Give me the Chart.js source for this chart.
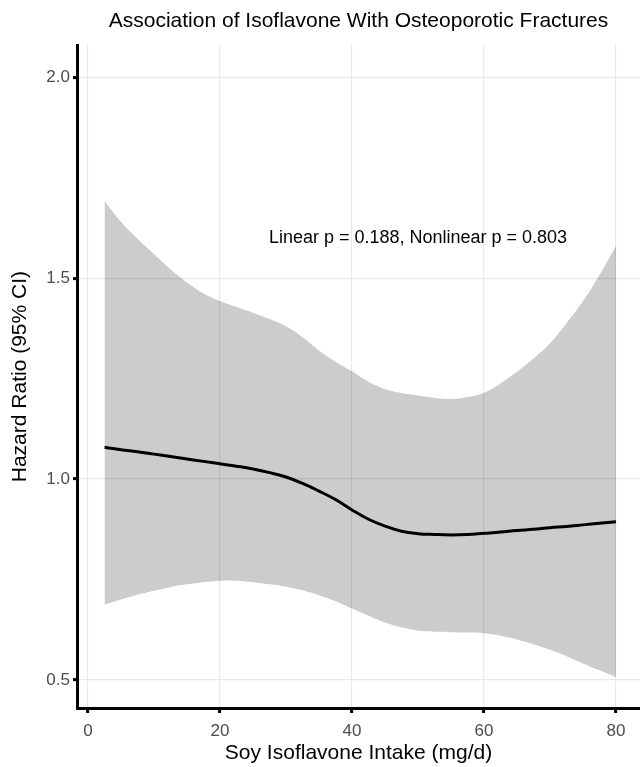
<!DOCTYPE html>
<html>
<head>
<meta charset="utf-8">
<script src="https://cdn.jsdelivr.net/npm/chart.js@4.4.1/dist/chart.umd.min.js"></script>
<style>
  html, body { margin: 0; padding: 0; background: #ffffff; }
  #wrap { width: 640px; height: 767px; position: relative; }
</style>
</head>
<body>
<div id="wrap"><canvas id="c"></canvas></div>
<script>
// ---- data ----
const xs = [2.5, 5, 7.5, 10, 12.5, 15, 17.5, 20, 22.5, 25, 27.5, 30, 32.5, 35, 37.5, 40,
            42.5, 45, 47.5, 50, 52.5, 55, 57.5, 60, 62.5, 65, 67.5, 70, 72.5, 75, 77.5, 80];
const hrFit = [1.079, 1.073, 1.068, 1.062, 1.056, 1.050, 1.044, 1.038, 1.032, 1.025, 1.016, 1.005,
               0.989, 0.970, 0.949, 0.923, 0.900, 0.883, 0.870, 0.864, 0.862, 0.861, 0.862, 0.865,
               0.868, 0.872, 0.875, 0.879, 0.882, 0.886, 0.890, 0.894];
const hrUpper = [1.692, 1.640, 1.598, 1.560, 1.522, 1.489, 1.462, 1.443, 1.428, 1.414, 1.398, 1.380,
                 1.353, 1.320, 1.292, 1.268, 1.242, 1.224, 1.214, 1.208, 1.202, 1.199, 1.204, 1.215,
                 1.238, 1.267, 1.300, 1.338, 1.388, 1.443, 1.508, 1.580];
const hrLower = [0.687, 0.700, 0.712, 0.722, 0.731, 0.738, 0.743, 0.747, 0.747, 0.743, 0.738, 0.732,
                 0.723, 0.711, 0.696, 0.678, 0.660, 0.643, 0.631, 0.623, 0.620, 0.619, 0.618, 0.616,
                 0.610, 0.601, 0.589, 0.575, 0.559, 0.541, 0.524, 0.507];
const xTicks = [0, 20, 40, 60, 80];
const yTicks = [0.5, 1.0, 1.5, 2.0];
const chartTitle = 'Association of Isoflavone With Osteoporotic Fractures';
const xTitle = 'Soy Isoflavone Intake (mg/d)';
const yTitle = 'Hazard Ratio (95% CI)';
const noteText = 'Linear p = 0.188, Nonlinear p = 0.803';
const notePos = [50, 1.6];

const FONT = "'Liberation Sans', Arial, Helvetica, sans-serif";
const toPts = arr => xs.map((x, i) => ({ x: x, y: arr[i] }));

const notePlugin = {
  id: 'note',
  afterDatasetsDraw(chart) {
    const { ctx, scales } = chart;
    ctx.save();
    ctx.font = '18px ' + FONT;
    ctx.fillStyle = '#000000';
    ctx.textAlign = 'center';
    ctx.textBaseline = 'middle';
    ctx.fillText(noteText, scales.x.getPixelForValue(notePos[0]), scales.y.getPixelForValue(notePos[1]));
    ctx.restore();
  }
};

new Chart(document.getElementById('c'), {
  type: 'line',
  data: {
    datasets: [
      { label: 'lower', data: toPts(hrLower), borderWidth: 0, borderColor: 'rgba(0,0,0,0)',
        pointRadius: 0, fill: false, tension: 0.4 },
      { label: 'upper', data: toPts(hrUpper), borderWidth: 0, borderColor: 'rgba(0,0,0,0)',
        backgroundColor: 'rgba(0,0,0,0.2)', pointRadius: 0, fill: '-1', tension: 0.4 },
      { label: 'fit', data: toPts(hrFit), borderWidth: 3, borderColor: '#000000',
        pointRadius: 0, fill: false, tension: 0.4 }
    ]
  },
  options: {
    responsive: true,
    maintainAspectRatio: false,
    animation: false,
    layout: { padding: 0 },
    plugins: {
      legend: { display: false },
      tooltip: { enabled: false },
      title: {
        display: true, text: chartTitle, fullSize: false, color: '#000000',
        font: { family: FONT, size: 21, weight: 'normal' },
        padding: { top: 9, bottom: 11 }
      }
    },
    scales: {
      x: {
        type: 'linear', min: -1.67, max: 83.64,
        afterBuildTicks: s => { s.ticks = xTicks.map(v => ({ value: v })); },
        afterFit: s => { s.height = 59; },
        grid: { color: '#e8e8e8', lineWidth: 1.2, tickColor: '#000000', tickWidth: 3, tickLength: 5 },
        border: { display: true, color: '#000000', width: 3 },
        ticks: { color: '#4d4d4d', font: { family: FONT, size: 17 }, padding: 8, maxRotation: 0,
                 callback: v => String(v) },
        title: { display: true, text: xTitle, color: '#000000',
                 font: { family: FONT, size: 21 }, padding: { top: 0, bottom: 1 } }
      },
      y: {
        type: 'linear', min: 0.4303, max: 2.0796,
        afterBuildTicks: s => { s.ticks = yTicks.map(v => ({ value: v })); },
        afterFit: s => { s.width = 77; },
        grid: { color: '#e8e8e8', lineWidth: 1.2, tickColor: '#000000', tickWidth: 3, tickLength: 4 },
        border: { display: true, color: '#000000', width: 3 },
        ticks: { color: '#4d4d4d', font: { family: FONT, size: 17 }, padding: 3,
                 callback: v => Number(v).toFixed(1) },
        title: { display: true, text: yTitle, color: '#000000',
                 font: { family: FONT, size: 21 }, padding: { top: 8, bottom: 0 } }
      }
    }
  },
  plugins: [notePlugin]
});
</script>
</body>
</html>
